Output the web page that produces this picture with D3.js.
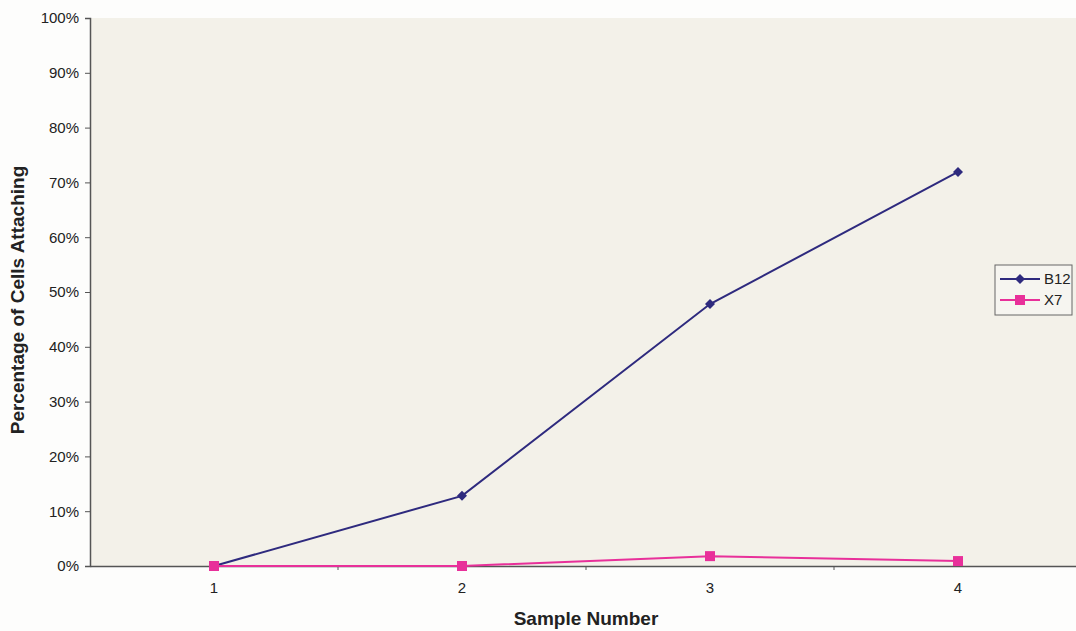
<!DOCTYPE html>
<html>
<head>
<meta charset="utf-8">
<script src="https://cdn.jsdelivr.net/npm/d3@7"></script>
<style>
  body { margin: 0; background: #fdfdfc; }
  svg { display: block; font-family: Arial, "Liberation Sans", sans-serif; }
</style>
</head>
<body>
<svg width="1076" height="631"></svg>
<script>
const samples = ["1", "2", "3", "4"];
const b12 = [0, 12.8, 47.8, 71.9];
const x7 = [0, 0, 1.8, 0.9];
const yTicks = [0, 10, 20, 30, 40, 50, 60, 70, 80, 90, 100];

const svg = d3.select("svg");

const margin = { top: 18, left: 90, bottom: 566, right: 1082 };

const xScale = d3.scaleBand()
    .domain(samples)
    .range([margin.left, margin.right]);

const yScale = d3.scaleLinear()
    .domain([0, 100])
    .range([margin.bottom, margin.top]);

// plot background
svg.append("rect")
    .attr("x", margin.left)
    .attr("y", margin.top)
    .attr("width", margin.right - margin.left)
    .attr("height", margin.bottom - margin.top)
    .attr("fill", "#f3f1e9");

// axes
const yAxis = svg.append("g")
    .attr("transform", `translate(${margin.left},0)`)
    .call(d3.axisLeft(yScale).tickValues(yTicks).tickSize(5).tickFormat(d => d + "%"));

const xAxis = svg.append("g")
    .attr("transform", `translate(0,${margin.bottom})`)
    .call(d3.axisBottom(xScale).tickSize(0).tickPadding(16));

// ticks between categories
xAxis.selectAll(".sep")
    .data(samples.slice(1))
    .enter()
    .append("line")
    .attr("x1", d => xScale(d))
    .attr("x2", d => xScale(d))
    .attr("y1", 0)
    .attr("y2", 4)
    .attr("stroke", "#555");

[yAxis, xAxis].forEach(g => {
    g.select(".domain").attr("stroke", "#555").attr("stroke-width", 1.5);
    g.selectAll(".tick line").attr("stroke", "#555");
    g.selectAll("text").attr("fill", "#222").style("font-size", "15px");
});
yAxis.selectAll("text").attr("x", -11);

const cx = d => xScale(d) + xScale.bandwidth() / 2;

const line = d3.line()
    .x(d => cx(d.s))
    .y(d => yScale(d.v));

const series = [
    { name: "B12", values: b12, color: "#2e2a7e", shape: d3.symbolSquare, size: 50, rot: 45 },
    { name: "X7", values: x7, color: "#e8309a", shape: d3.symbolSquare, size: 100, rot: 0 }
];

series.forEach(s => {
    const pts = samples.map((k, i) => ({ s: k, v: s.values[i] }));
    svg.append("path")
        .datum(pts)
        .attr("fill", "none")
        .attr("stroke", s.color)
        .attr("stroke-width", 2)
        .attr("d", line);
    svg.selectAll(".m-" + s.name)
        .data(pts)
        .enter()
        .append("path")
        .attr("transform", d => `translate(${cx(d.s)},${yScale(d.v)}) rotate(${s.rot})`)
        .attr("d", d3.symbol().type(s.shape).size(s.size))
        .attr("fill", s.color);
});

// legend
const legend = svg.append("g").attr("transform", "translate(995,265)");
legend.append("rect")
    .attr("width", 77)
    .attr("height", 50)
    .attr("fill", "#f6f5f0")
    .attr("stroke", "#666")
    .attr("stroke-width", 1);

series.forEach((s, i) => {
    const y = 14 + i * 21;
    legend.append("line")
        .attr("x1", 5).attr("x2", 45)
        .attr("y1", y).attr("y2", y)
        .attr("stroke", s.color)
        .attr("stroke-width", 2);
    legend.append("path")
        .attr("transform", `translate(25,${y}) rotate(${s.rot})`)
        .attr("d", d3.symbol().type(s.shape).size(s.size))
        .attr("fill", s.color);
    legend.append("text")
        .attr("x", 49)
        .attr("y", y + 5)
        .style("font-size", "15px")
        .attr("fill", "#222")
        .text(s.name);
});

// axis titles
svg.append("text")
    .attr("x", 586)
    .attr("y", 625)
    .attr("text-anchor", "middle")
    .style("font-size", "19px")
    .style("font-weight", "bold")
    .attr("fill", "#222")
    .text("Sample Number");

svg.append("text")
    .attr("transform", "rotate(-90)")
    .attr("x", -300)
    .attr("y", 24)
    .attr("text-anchor", "middle")
    .style("font-size", "19px")
    .style("font-weight", "bold")
    .attr("fill", "#222")
    .text("Percentage of Cells Attaching");
</script>
</body>
</html>
